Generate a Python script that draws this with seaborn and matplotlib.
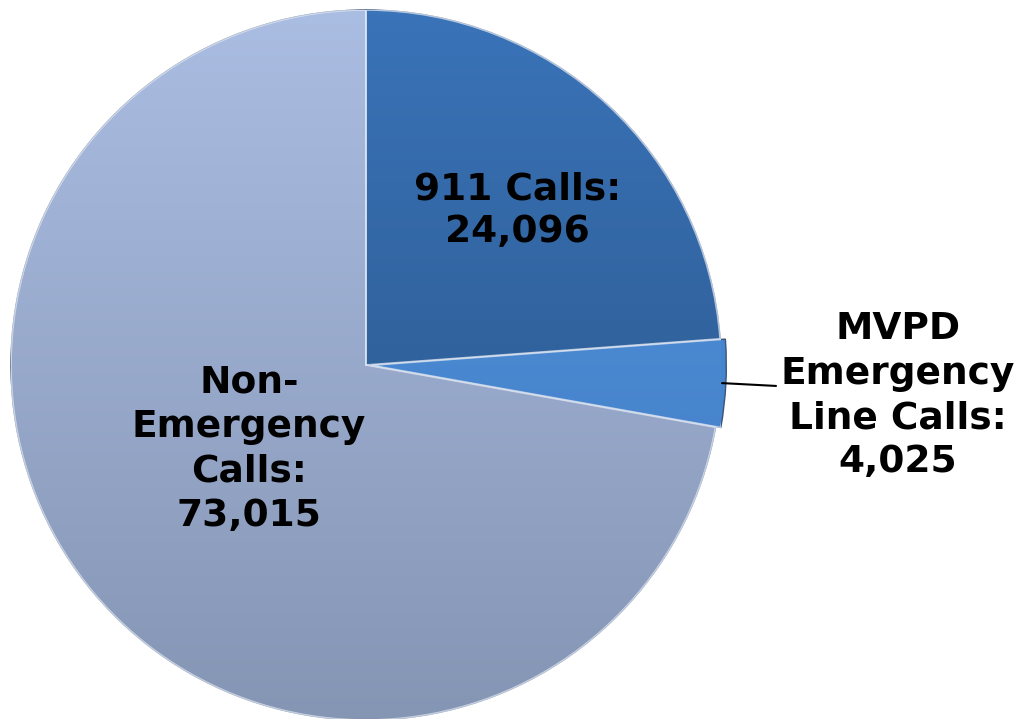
import numpy as np
import matplotlib
matplotlib.use("Agg")
import matplotlib.pyplot as plt
import seaborn as sns
from matplotlib.colors import LinearSegmentedColormap

categories = ["911 Calls", "MVPD Emergency Line Calls", "Non-Emergency Calls"]
values = [24096, 4025, 73015]
label_texts = ["911 Calls:\n24,096", "MVPD\nEmergency\nLine Calls:\n4,025", "Non-\nEmergency\nCalls:\n73,015"]

sns.set_theme(style="white")
plt.rcParams["font.family"] = ["DejaVu Sans"]

fig = plt.figure(figsize=(10.26, 7.19), dpi=100)
ax = fig.add_axes([11 / 1026, -1 / 719, 710 / 1026, 710 / 719])
ax.set_xlim(-1.0, 1.0)
ax.set_ylim(-1.0, 1.0)
ax.set_aspect("equal")
ax.axis("off")

explode = [0, 0.015, 0]
wedges, _ = ax.pie(values, startangle=90, counterclock=False, radius=1.0,
                   explode=explode, colors=["#2f5f9c", "#4585d0", "#98acd2"],
                   wedgeprops=dict(edgecolor="#3c5478", linewidth=1.0))

grads = [
    ("#3a74ba", "#27507f"),
    ("#5596df", "#3d78c0"),
    ("#abbee3", "#8494b3"),
]
for w, (c1, c2) in zip(wedges, grads):
    cmap = LinearSegmentedColormap.from_list("g", [c1, c2])
    grad = np.linspace(0, 1, 256).reshape(-1, 1)
    im = ax.imshow(grad, cmap=cmap, extent=[-1.05, 1.05, -1.05, 1.05],
                   origin="upper", aspect="auto", zorder=w.get_zorder() + 0.1)
    im.set_clip_path(w)
# subtle bevel-like edges on top
for w in wedges:
    p = plt.matplotlib.patches.PathPatch(w.get_path(), transform=w.get_transform(),
                                         fill=False, edgecolor="#e8eef8", lw=1.2,
                                         alpha=0.7, zorder=5)
    ax.add_patch(p)
ax.set_xlim(-1.0, 1.0)
ax.set_ylim(-1.0, 1.0)

fs = 27
ls = 1.3
ax.text(0.427, 0.434, label_texts[0], ha="center", va="center", fontsize=fs,
        fontweight="bold", color="black", linespacing=1.22, zorder=10)
ax.text(-0.33, -0.237, label_texts[2], ha="center", va="center", fontsize=fs,
        fontweight="bold", color="black", linespacing=ls, zorder=10)
ax.text(1.499, -0.087, label_texts[1], ha="center", va="center", fontsize=fs,
        fontweight="bold", color="black", linespacing=ls, zorder=10, clip_on=False)
ax.plot([1.003, 1.155], [-0.051, -0.059], color="black", lw=1.5, clip_on=False, zorder=10)

fig.savefig("out.png", dpi=100, facecolor="white")
